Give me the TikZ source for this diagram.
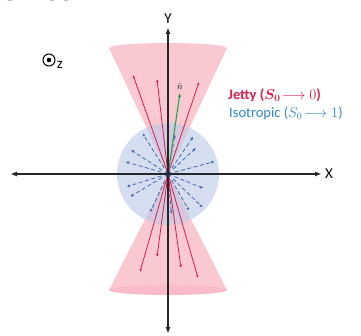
\documentclass[tikz,border=0pt]{standalone}
\usepackage{amsmath}
\usepackage{fontspec}
\setmainfont{Carlito}
\setsansfont{Carlito}
\usepackage{tikz}
\usetikzlibrary{arrows.meta,positioning,calc}
\definecolor{jetred}{HTML}{D81E4A}
\definecolor{conepink}{HTML}{F7A3B3}
\definecolor{isoblue}{HTML}{2F86C3}
\definecolor{sphblue}{HTML}{B9C8E6}
\definecolor{dashblue}{HTML}{4566B0}
\definecolor{nvec}{HTML}{1FA84A}

\begin{document}
\begin{tikzpicture}[x=1pt, y=1pt,
        axis/.style={{Latex[length=7pt,width=5pt]}-{Latex[length=7pt,width=5pt]}, line width=1.4pt, black!85},
        jet/.style={-{Latex[length=3pt,width=2.6pt]}, line width=0.8pt, jetred},
        iso/.style={-{Latex[length=3pt,width=3pt]}, line width=0.8pt, dashblue, dash pattern=on 4pt off 2.5pt},
        cone/.style={fill=conepink, fill opacity=0.6, draw=none},
        lbl/.style={font=\fontsize{15}{15}\selectfont, inner sep=1pt}]
        \useasboundingbox (-168,-162) rectangle (193,174);
        \begin{scope}
          \clip (-168,-162) rectangle (193,174);
          \node[anchor=base west, font=\bfseries\fontsize{44}{44}\selectfont, inner sep=0pt] (title) at (-170,173) {ents};
        \end{scope}
        \coordinate (O) at (0,0);
        % cones and sphere
        \fill[cone] (O) -- (-59,126) arc[start angle=180, end angle=360, x radius=59, y radius=5] -- cycle;
        \fill[cone] (0,126) ellipse[x radius=59, y radius=5];
        \fill[cone] (O) -- (-59,-116) arc[start angle=180, end angle=360, x radius=59, y radius=5] -- cycle;
        \fill[conepink, opacity=0.35] (0,-116) ellipse[x radius=59, y radius=5];
        \fill[sphblue, fill opacity=0.6] (O) circle[radius=51];
        % isotropic emission
        \foreach \a/\r in {15/48, 43/38, 56/45, 80/40, 122/48, 147/44, 164/44, 197/43, 211/44, 245/42, 275/40, 300/42, 316/48, 338/38}
          \draw[iso] ($(O)+(\a:7)$) -- ($(O)+(\a:\r)$);
        % jetty emission
        \foreach \p in {(-35,99), (-11,95), (31,92), (-28,-98), (-11,-83), (13,-94), (30,-104)}
          \draw[jet] (O) -- \p;
        \coordinate (ntip) at (12,81);
        \draw[-{Latex[length=4pt,width=3.5pt]}, line width=1.1pt, nvec] (O) -- (ntip);
        \node[inner sep=1pt, font=\small, above=2pt of ntip] (nhat) {$\hat{n}$};
        \fill[dashblue] (O) circle[radius=3.5];
        % axes
        \coordinate (xl) at (-158,0); \coordinate (xr) at (154,0);
        \coordinate (yb) at (0,-160); \coordinate (yt) at (0,147);
        \draw[axis] (xl) -- (xr);
        \draw[axis] (yb) -- (yt);
        \node[lbl, right=2pt of xr] (xlab) {X};
        \node[lbl, above=2pt of yt] (ylab) {Y};
        % out of plane
        \node[circle, draw, line width=1pt, minimum size=12pt, inner sep=0pt] (zdot) at (-119,114) {};
        \fill (zdot) circle[radius=2.3];
        \node[lbl, below right=-4pt and 2pt of zdot] (zlab) {z};
        % legend
        \node[anchor=west, font=\bfseries\fontsize{14.5}{16}\selectfont, text=jetred, inner sep=0pt] (jetty) at (60,79) {Jetty ($\boldsymbol{S_0}\!\longrightarrow 0$)};
        \node[anchor=west, font=\fontsize{14.5}{16}\selectfont, text=isoblue, inner sep=0pt] (isotr) at (61,61) {Isotropic ($S_0\!\longrightarrow 1$)};
      \end{tikzpicture}
\end{document}
